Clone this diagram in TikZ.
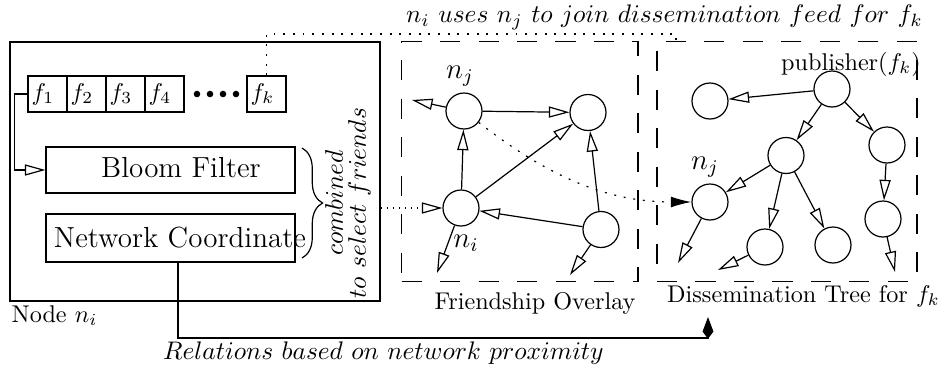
\RequirePackage{fix-cm}
\documentclass[tikz,border=0pt]{standalone}
\usetikzlibrary{arrows.meta,decorations.pathreplacing}
\newcommand\pxu{0.4132pt}
\tikzset{
  plain/.style={draw, inner sep=0pt},
  cell/.style={draw, inner xsep=1.5pt, inner ysep=0pt, text width=13.1pt,
    align=left, minimum height=36*\pxu},
  bigtxt/.style={inner sep=0pt, font=\large},
  itxt/.style={inner sep=0pt, font=\fontsize{10.5}{9.5}\selectfont},
  region/.style={draw, inner sep=0pt, dash pattern=on 8.3pt off 7.6pt},
  peer/.style={circle, draw, minimum size=36*\pxu, inner sep=0pt},
  peerlbl/.style={inner sep=0pt, font=\large},
  oarr/.style={-{Triangle[open, length=8.5pt, width=4.6pt]}},
  sparse/.style={dash pattern=on 0.8pt off 3.2pt},
}
\begin{document}
\begin{tikzpicture}[x=0.4132pt, y=-0.4132pt, line width=0.5pt]
\useasboundingbox (0,0) rectangle (944,368);

% ---- the host node with its feeds and summaries
\node[plain, minimum width=370*\pxu, minimum height=259*\pxu] (host) at (195,171.5) {};
\node[anchor=base west, inner sep=0pt] (hostlbl) at (11,322) {Node $n_i$};

\node[cell] (f1) at (47.5,94) {$f_1$};
\node[cell] (f2) at (86.5,94) {$f_2$};
\node[cell] (f3) at (125.5,94) {$f_3$};
\node[cell] (f4) at (164.5,94) {$f_4$};
\node[cell] (fk) at (266.5,94) {$f_k$};
\foreach \dx in {197,210,223,236} \fill (\dx,94) circle[radius=1.35pt];

\node[plain, minimum width=249*\pxu, minimum height=46*\pxu] (bloom) at (170.5,170) {};
\node[bigtxt] (bloomtxt) at (181,168) {Bloom Filter};
\node[plain, minimum width=249*\pxu, minimum height=48*\pxu] (netc) at (170.5,238) {};
\node[bigtxt] (netctxt) at (180,237.5) {Network Coordinate};

\draw[oarr] (f1.west) -- ++(-13,0) |- (bloom.west);

\draw[decorate, decoration={brace, amplitude=8.5pt}] (302,148) -- (302,258);
\node[itxt, rotate=90, align=center] (why) at (348,203)
  {$combined$\\$to\ select\ friends$};

% ---- friendship overlay
\node[region, minimum width=236.3*\pxu, minimum height=240*\pxu] (ovl) at (519.85,161.7) {};
\node[inner sep=0pt] (ovllbl) at (535,303) {Friendship Overlay};

\node[peer] (onj) at (464,111) {};
\node[peer] (otr) at (588,112.5) {};
\node[peer] (oni) at (461,208) {};
\node[peer] (obr) at (601,229.5) {};
\node[peerlbl] (onjlbl) at (460,76) {$n_j$};
\node[peerlbl] (onilbl) at (466,243) {$n_i$};
\coordinate (oa) at (412,100);
\coordinate (ob) at (437,273);
\coordinate (oc) at (570,275);

\draw[oarr] (onj) -- (oa);
\draw[oarr] (onj) -- (otr);
\draw[oarr] (oni) -- (onj);
\draw[oarr] (oni) -- (otr);
\draw[oarr] (obr) -- (otr);
\draw[oarr] (obr) -- (oni);
\draw[oarr] (oni) -- (ob);
\draw[oarr] (obr) -- (oc);

% ---- dissemination tree
\node[region, minimum width=260*\pxu, minimum height=240*\pxu] (tree) at (787,161.7) {};
\node[inner sep=0pt] (treelbl) at (803.5,296) {Dissemination Tree for $f_k$};

\node[peer] (tpub) at (832,89) {};
\node[peer] (tl) at (710,101) {};
\node[peer] (tm) at (786,155.5) {};
\node[peer] (tr) at (887,145) {};
\node[peer] (tnj) at (710,202) {};
\node[peer] (tbl) at (765,247) {};
\node[peer] (tbr) at (833,245) {};
\node[peer] (trl) at (883,219) {};
\node[inner sep=0pt] (publbl) at (851,64) {publisher($f_k$)};
\node[peerlbl] (tnjlbl) at (705,167) {$n_j$};
\coordinate (ta) at (678,263);
\coordinate (tb) at (718,270);
\coordinate (tc) at (895,272);

\draw[oarr] (tpub) -- (tl);
\draw[oarr] (tpub) -- (tm);
\draw[oarr] (tpub) -- (tr);
\draw[oarr] (tm) -- (tnj);
\draw[oarr] (tm) -- (tbl);
\draw[oarr] (tm) -- (tbr);
\draw[oarr] (tr) -- (trl);
\draw[oarr] (trl) -- (tc);
\draw[oarr] (tnj) -- (ta);
\draw[oarr] (tbl) -- (tb);

% ---- cross links
\draw[dotted, oarr] (host.east |- oni) -- (oni);
\draw[sparse, -{Latex[length=8.5pt, width=4.5pt]}] (onj) .. controls (540,170) and (600,202) .. (tnj);

\coordinate (jn) at (676,34);
\draw[sparse] (fk.north) |- (jn) -- (jn |- tree.north);
\node[itxt] (jointxt) at (664.5,17)
  {$n_i\ uses\ n_j\ to\ join\ dissemination\ feed\ for\ f_k$};

\coordinate (relc) at (708,338);
\coordinate (relend) at (708,317);
\draw[-{Kite[length=9pt, width=4.5pt, inset=3pt]}]
  ([xshift=7.5*\pxu]netc.south) |- (relc) -- (relend);
\node[itxt] (reltxt) at (383.5,353)
  {$Relations\ based\ on\ network\ proximity$};
\end{tikzpicture}
\end{document}
